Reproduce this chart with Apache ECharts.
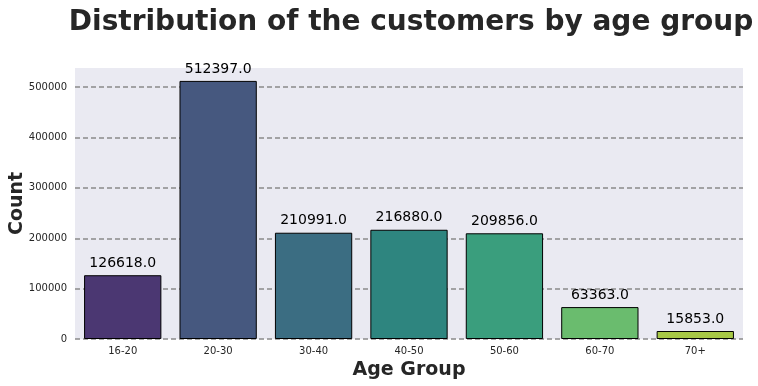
<!DOCTYPE html>
<html>
<head>
<meta charset="utf-8">
<script src="https://cdn.jsdelivr.net/npm/echarts@6/dist/echarts.min.js"></script>
<style>
html,body{margin:0;padding:0;background:#fff;}
#main{width:758px;height:386px;}
</style>
</head>
<body>
<div id="main"></div>
<script>
const categories = ['16-20','20-30','30-40','40-50','50-60','60-70','70+'];
const counts = [126618, 512397, 210991, 216880, 209856, 63363, 15853];
const barColors = ['#4b3772','#46587f','#3b6d82','#2e857f','#3a9e7d','#6abc6e','#a7c846'];
const yTicks = [0, 100000, 200000, 300000, 400000, 500000];

const yMax = Math.max(...counts) * 1.05;
const chart = echarts.init(document.getElementById('main'), null, {renderer:'canvas'});
const FONT = 'DejaVu Sans';
chart.setOption({
  animation: false,
  backgroundColor: '#ffffff',
  textStyle: {fontFamily: FONT},
  title: {
    text: 'Distribution of the customers by age group',
    left: 406, top: 4, textAlign: 'center',
    textStyle: {fontFamily: FONT, fontSize: 28, fontWeight: 'bold', color: '#262626'}
  },
  grid: {left: 75, right: 15, top: 68, bottom: 47, show: true, backgroundColor: '#eaeaf2', borderWidth: 0,
    containLabel: false, outerBoundsMode: 'none'},
  xAxis: {
    type: 'category', data: categories,
    name: 'Age Group', nameLocation: 'middle', nameGap: 22, nameMoveOverlap: false,
    nameTextStyle: {fontFamily: FONT, fontSize: 19, fontWeight: 'bold', color: '#262626'},
    axisLine: {show: false}, axisTick: {show: false},
    axisLabel: {fontFamily: FONT, fontSize: 10, color: '#262626', margin: 7}
  },
  yAxis: {
    type: 'value', min: 0, max: yMax, interval: 100000,
    name: 'Count', nameLocation: 'middle', nameGap: 48, nameMoveOverlap: false,
    nameTextStyle: {fontFamily: FONT, fontSize: 19, fontWeight: 'bold', color: '#262626'},
    axisLine: {show: false}, axisTick: {show: false},
    splitLine: {show: false},
    axisLabel: {fontFamily: FONT, fontSize: 10, color: '#262626', margin: 8,
      formatter: v => (yTicks.includes(v) ? String(v) : '')}
  },
  series: [{
    type: 'bar',
    data: counts.map((v, i) => ({value: v, itemStyle: {color: barColors[i]}})),
    barWidth: '81%',
    itemStyle: {borderColor: '#000', borderWidth: 1},
    label: {show: true, position: 'top', distance: 5, fontFamily: FONT, fontSize: 14, color: '#000',
      formatter: p => p.value.toFixed(1)},
    markLine: {
      silent: true, symbol: 'none', z: 1,
      label: {show: false},
      lineStyle: {color: '#8a8a8a', width: 1.5, type: [5, 3]},
      data: yTicks.map(t => ({yAxis: t}))
    }
  }]
});
</script>
</body>
</html>
